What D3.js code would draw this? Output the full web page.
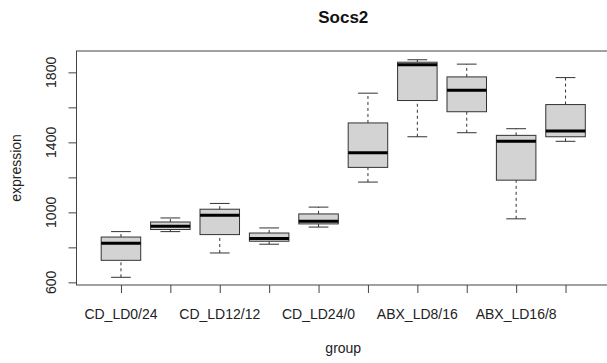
<!DOCTYPE html>
<html lang="en">
<head>
  <meta charset="UTF-8">
  <script src="https://d3js.org/d3.v7.min.js"></script>
  <title>Socs2</title>
  <style>
    body { margin: 0; background: #fff; }
    svg { display: block; font-family: 'Liberation Sans', Arial, sans-serif; }
  </style>
</head>
<body>
  <svg id="chart" width="607" height="363"></svg>
  <script>
    // groups in plotting order (R drops labels that would overlap)
    const groups = ["CD_LD0/24", "CD_LD8/16", "CD_LD12/12", "CD_LD16/8", "CD_LD24/0",
                    "ABX_LD0/24", "ABX_LD8/16", "ABX_LD12/12", "ABX_LD16/8", "ABX_LD24/0"];
    // five-number summaries
    const lowWhisker  = [629, 890, 768, 818, 916, 1173, 1432, 1455, 963, 1406];
    const q1          = [726, 902, 873, 835, 934, 1257, 1639, 1575, 1184, 1432];
    const medians     = [823, 921, 984, 850, 949, 1341, 1843, 1698, 1406, 1465];
    const q3          = [859, 945, 1018, 882, 991, 1511, 1858, 1774, 1440, 1616];
    const highWhisker = [890, 968, 1051, 911, 1030, 1681, 1872, 1847, 1478, 1770];
    const yTicks = [600, 800, 1000, 1200, 1400, 1600, 1800];

    const svg = d3.select("#chart");
    const plotLeft = 76.5, plotRight = 610, plotTop = 51, plotBottom = 285;
    const labelGap = 13; // a bit over one "m", like R's gap.axis

    const x = d3.scaleLinear().domain([0.1, groups.length + 0.9]).range([plotLeft, plotRight]);
    const y = d3.scaleLinear().domain([585, 1922]).range([plotBottom, plotTop]);

    const boxes = groups.map((g, i) => ({
      name: g, pos: i + 1,
      lo: lowWhisker[i], q1: q1[i], med: medians[i], q3: q3[i], hi: highWhisker[i]
    }));

    const g = svg.append("g");
    const halfBox = 0.4, halfStaple = 0.2;

    // whiskers (dashed)
    g.selectAll(".whisker").data(boxes.flatMap(d => [[d.pos, d.lo, d.q1], [d.pos, d.q3, d.hi]]))
      .enter().append("line")
      .attr("x1", d => x(d[0])).attr("x2", d => x(d[0]))
      .attr("y1", d => y(d[1])).attr("y2", d => y(d[2]))
      .attr("stroke", "#333").attr("stroke-width", 1).attr("stroke-dasharray", "3,3");

    // staples
    g.selectAll(".staple").data(boxes.flatMap(d => [[d.pos, d.lo], [d.pos, d.hi]]))
      .enter().append("line")
      .attr("x1", d => x(d[0] - halfStaple)).attr("x2", d => x(d[0] + halfStaple))
      .attr("y1", d => y(d[1])).attr("y2", d => y(d[1]))
      .attr("stroke", "#333").attr("stroke-width", 1);

    // boxes
    g.selectAll(".box").data(boxes).enter().append("rect")
      .attr("x", d => x(d.pos - halfBox))
      .attr("width", d => x(d.pos + halfBox) - x(d.pos - halfBox))
      .attr("y", d => y(d.q3))
      .attr("height", d => y(d.q1) - y(d.q3))
      .attr("fill", "#d3d3d3").attr("stroke", "#333").attr("stroke-width", 1);

    // medians
    g.selectAll(".median").data(boxes).enter().append("line")
      .attr("x1", d => x(d.pos - halfBox)).attr("x2", d => x(d.pos + halfBox))
      .attr("y1", d => y(d.med)).attr("y2", d => y(d.med))
      .attr("stroke", "#000").attr("stroke-width", 3);

    // frame
    svg.append("rect")
      .attr("x", plotLeft).attr("y", plotTop)
      .attr("width", plotRight - plotLeft).attr("height", plotBottom - plotTop)
      .attr("fill", "none").attr("stroke", "#444").attr("stroke-width", 1);

    // y axis
    const yAxis = svg.append("g").attr("transform", `translate(${plotLeft},0)`)
      .call(d3.axisLeft(y).tickValues(yTicks).tickSize(8).tickSizeOuter(0));
    yAxis.select(".domain").attr("stroke", "#444")
      .attr("d", `M0,${y(600)}V${y(1800)}`);
    yAxis.selectAll(".tick line").attr("stroke", "#444");
    yAxis.selectAll(".tick text").remove();

    // y labels, rotated; drop any that would crowd the previous one
    let lastTop = Infinity;
    yTicks.forEach(v => {
      const t = svg.append("text")
        .attr("transform", `translate(56,${y(v)}) rotate(-90)`)
        .attr("text-anchor", "middle")
        .attr("font-size", 14).attr("fill", "#222")
        .text(v);
      const w = t.node().getComputedTextLength();
      const lo = y(v) + w / 2, hi = y(v) - w / 2;
      if (lo > lastTop - labelGap) t.remove();
      else lastTop = hi;
    });

    // x axis
    const xAxis = svg.append("g").attr("transform", `translate(0,${plotBottom})`)
      .call(d3.axisBottom(x).tickValues(boxes.map(d => d.pos)).tickSize(8).tickFormat(""));
    xAxis.select(".domain").remove();
    xAxis.selectAll(".tick line").attr("stroke", "#444");

    // x labels, same overlap rule
    let lastRight = -Infinity;
    boxes.forEach(d => {
      const t = svg.append("text")
        .attr("x", x(d.pos)).attr("y", 319)
        .attr("text-anchor", "middle")
        .attr("font-size", 14).attr("fill", "#222")
        .text(d.name);
      const bb = t.node().getBBox();
      if (bb.x < lastRight + labelGap) t.remove();
      else lastRight = bb.x + bb.width;
    });

    // titles
    svg.append("text")
      .attr("x", (plotLeft + plotRight) / 2).attr("y", 23)
      .attr("text-anchor", "middle")
      .attr("font-size", 17).attr("font-weight", "bold").attr("fill", "#111")
      .text("Socs2");
    svg.append("text")
      .attr("x", (plotLeft + plotRight) / 2).attr("y", 353)
      .attr("text-anchor", "middle")
      .attr("font-size", 14).attr("fill", "#222")
      .text("group");
    svg.append("text")
      .attr("transform", `translate(21,${(plotTop + plotBottom) / 2}) rotate(-90)`)
      .attr("text-anchor", "middle")
      .attr("font-size", 14).attr("fill", "#222")
      .text("expression");
  </script>
</body>
</html>
